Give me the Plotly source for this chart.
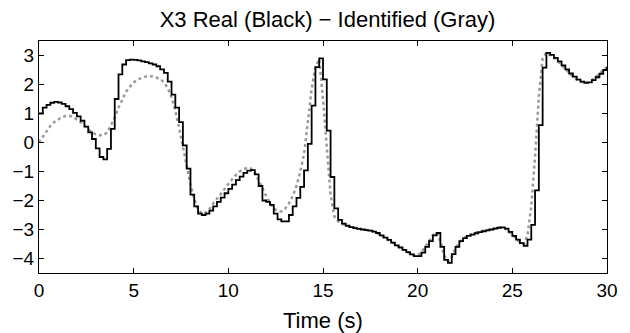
import plotly.graph_objects as go

# time grid (s), 0.2 s sample period, 0 .. 30 s
time_s = [round(i * 0.2, 1) for i in range(151)]

# real state X3 (piecewise constant, sampled)
x3_real = [
    1.0, 1.2, 1.3, 1.37, 1.4, 1.38, 1.33, 1.25, 1.15, 1.02,          # 0.0 - 1.8
    0.9, 0.75, 0.55, 0.35, 0.12, -0.2, -0.5, -0.58, -0.22, 0.47,     # 2.0 - 3.8
    1.5, 2.35, 2.69, 2.84, 2.86, 2.85, 2.83, 2.8, 2.77, 2.73,        # 4.0 - 5.8
    2.69, 2.63, 2.52, 2.4, 2.1, 1.65, 1.2, 0.7, -0.1, -0.9,          # 6.0 - 7.8
    -1.8, -2.2, -2.45, -2.5, -2.45, -2.35, -2.2, -2.05, -1.9, -1.75, # 8.0 - 9.8
    -1.6, -1.45, -1.3, -1.18, -1.05, -0.97, -0.95, -1.1, -1.5, -2.0, # 10.0 - 11.8
    -2.05, -2.15, -2.45, -2.65, -2.72, -2.72, -2.5, -2.2, -1.91, -1.53,  # 12.0 - 13.8
    -0.96, -0.05, 1.27, 2.6, 2.9, 2.18, 0.41, -1.19, -2.27, -2.67,   # 14.0 - 15.8
    -2.8, -2.87, -2.92, -2.95, -2.98, -3.0, -3.02, -3.04, -3.07, -3.12,  # 16.0 - 17.8
    -3.2, -3.28, -3.36, -3.45, -3.55, -3.62, -3.7, -3.78, -3.86, -3.92,  # 18.0 - 19.8
    -3.92, -3.8, -3.6, -3.4, -3.2, -3.12, -3.6, -4.05, -4.15, -3.85,     # 20.0 - 21.8
    -3.6, -3.4, -3.3, -3.22, -3.18, -3.13, -3.09, -3.06, -3.03, -3.0,    # 22.0 - 23.8
    -2.97, -2.94, -2.93, -2.97, -3.08, -3.22, -3.35, -3.47, -3.56, -3.35,  # 24.0 - 25.8
    -2.84, -1.65, 0.6, 2.58, 3.09, 3.02, 2.92, 2.8, 2.66, 2.52,      # 26.0 - 27.8
    2.38, 2.27, 2.17, 2.1, 2.06, 2.07, 2.15, 2.25, 2.37, 2.5,        # 28.0 - 29.8
    2.6,                                                             # 30.0
]

# identified state X3
x3_ident = [
    0.0, 0.2, 0.4, 0.57, 0.7, 0.8, 0.87, 0.91, 0.92, 0.88,           # 0.0 - 1.8
    0.8, 0.7, 0.58, 0.45, 0.35, 0.28, 0.25, 0.25, 0.35, 0.6,         # 2.0 - 3.8
    0.85, 1.2, 1.5, 1.75, 1.92, 2.07, 2.17, 2.23, 2.27, 2.29,        # 4.0 - 5.8
    2.28, 2.24, 2.18, 2.08, 1.88, 1.55, 1.1, 0.5, -0.2, -0.8,        # 6.0 - 7.8
    -1.45, -1.95, -2.3, -2.45, -2.42, -2.3, -2.1, -1.95, -1.78, -1.6,  # 8.0 - 9.8
    -1.42, -1.27, -1.12, -1.0, -0.92, -0.87, -0.9, -1.05, -1.3, -1.58, # 10.0 - 11.8
    -1.85, -2.08, -2.27, -2.37, -2.38, -2.28, -2.1, -1.85, -1.5, -1.0, # 12.0 - 13.8
    -0.4, 0.7, 1.85, 2.6, 2.87, 1.5, -0.3, -1.8, -2.55, -2.72,       # 14.0 - 15.8
    -2.8, -2.86, -2.9, -2.93, -2.95, -2.97, -2.99, -3.02, -3.05, -3.1,   # 16.0 - 17.8
    -3.17, -3.25, -3.33, -3.42, -3.52, -3.6, -3.68, -3.76, -3.84, -3.9,  # 18.0 - 19.8
    -3.9, -3.78, -3.6, -3.4, -3.2, -3.1, -3.4, -3.9, -4.1, -3.95,        # 20.0 - 21.8
    -3.65, -3.45, -3.32, -3.23, -3.17, -3.12, -3.08, -3.05, -3.02, -2.99,  # 22.0 - 23.8
    -2.96, -2.93, -2.92, -2.95, -3.05, -3.18, -3.32, -3.44, -3.5, -3.2,    # 24.0 - 25.8
    -2.2, -0.5, 1.6, 2.9, 3.1, 3.02, 2.92, 2.8, 2.66, 2.52,          # 26.0 - 27.8
    2.38, 2.27, 2.17, 2.1, 2.06, 2.07, 2.15, 2.25, 2.37, 2.5,        # 28.0 - 29.8
    2.6,                                                             # 30.0
]

x_ticks = [0, 5, 10, 15, 20, 25, 30]
y_ticks = [-4, -3, -2, -1, 0, 1, 2, 3]

fig = go.Figure()
fig.add_trace(go.Scatter(
    x=time_s, y=x3_ident, mode="lines",
    line=dict(color="#9a9a9a", width=2.5, dash="dot"),
    showlegend=False,
))
fig.add_trace(go.Scatter(
    x=time_s, y=x3_real, mode="lines",
    line=dict(color="black", width=1.8, shape="hv"),
    showlegend=False,
))

fam = "Liberation Sans, Arial, sans-serif"
tick_font = dict(family=fam, size=19, color="black")
axis_common = dict(
    showgrid=False, zeroline=False, showline=True, linecolor="black",
    linewidth=1, mirror="ticks", ticks="inside", ticklen=5,
    tickcolor="black", tickwidth=1, tickfont=tick_font,
)
fig.update_layout(
    width=630, height=333,
    margin=dict(l=39, r=14, t=41, b=60),
    paper_bgcolor="white", plot_bgcolor="white",
    font=dict(family=fam, size=19, color="black"),
    title=dict(text="X3 Real (Black) \u2212 Identified (Gray)",
               x=327.5 / 630, xanchor="center", y=1 - 19 / 333, yanchor="middle",
               yref="container", font=dict(family=fam, size=22, color="black")),
    xaxis=dict(range=[0, 30], tickvals=x_ticks, **axis_common),
    yaxis=dict(range=[-4.5, 3.5], tickvals=y_ticks,
               ticktext=[("\u2212" + str(-v)) if v < 0 else str(v) for v in y_ticks],
               **axis_common),
    annotations=[dict(text="Time (s)", x=0.5, y=-0.205, xref="paper",
                      yref="paper", xanchor="center", yanchor="middle",
                      showarrow=False, font=dict(family=fam, size=22, color="black"))],
)
fig.write_html("out.html")
